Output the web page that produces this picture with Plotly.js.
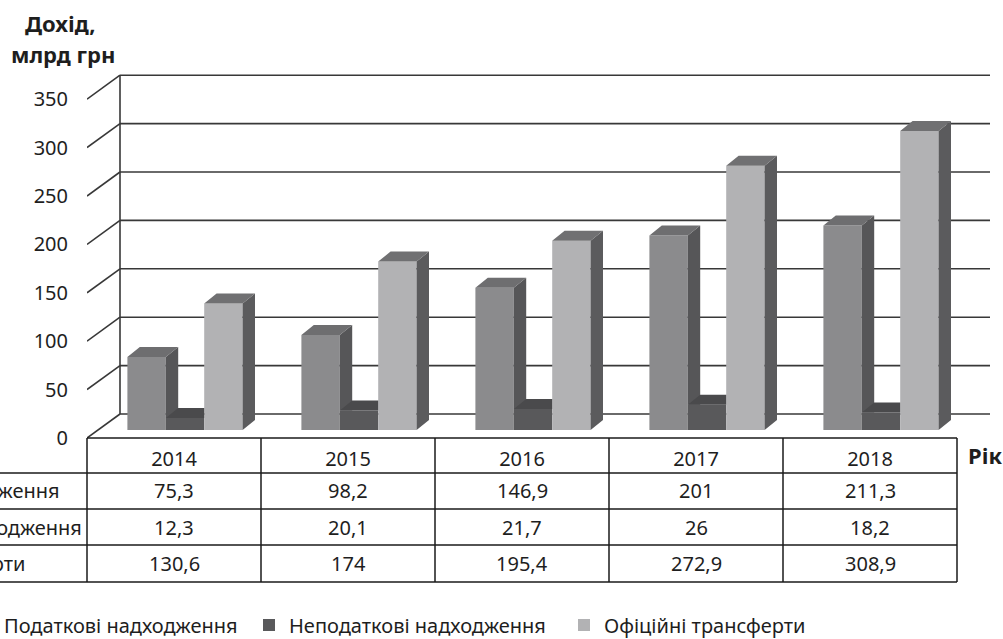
<!DOCTYPE html>
<html><head><meta charset="utf-8">
<script src="https://cdn.plot.ly/plotly-3.0.1.min.js"></script>
<style>html,body{margin:0;padding:0;background:#fff}#chart{width:1003px;height:639px}</style>
</head><body><div id="chart"></div>
<script>
// ---------- data ----------
const years = ['2014', '2015', '2016', '2017', '2018'];
const seriesNames = ['Податкові надходження', 'Неподаткові надходження', 'Офіційні трансферти'];
const taxRevenue = [75.3, 98.2, 146.9, 201, 211.3];
const nonTaxRevenue = [12.3, 20.1, 21.7, 26, 18.2];
const officialTransfers = [130.6, 174, 195.4, 272.9, 308.9];
const yTicks = [0, 50, 100, 150, 200, 250, 300, 350];
const yTitleLines = ['Дохід,', 'млрд грн'];
const xTitle = 'Рік';

// ---------- geometry / style ----------
const L = 87, R = 990, T = 64, B = 438;       // plot area (px)
const K = 0.968;                               // px per value unit
const BAR0 = 430, FRONT0 = 438, BACK0 = 414;   // y px of 0 on bar plane / front / back wall
const WALLX = 120;                             // back wall left x
const CAT = 174, BAR_SHIFT = 11, BW = 38.4;
const DX = 12.4, DY = 10 / K;
const FRONT_OFF = (BAR0 - FRONT0) / K, BACK_OFF = (BAR0 - BACK0) / K;
const FONT = 'Noto Sans';
const TXT = '#1e1e1e';
const colors = [
  {front: '#8b8b8d', top: '#6e6e70', side: '#565658'},
  {front: '#59595b', top: '#4a4a4c', side: '#404042'},
  {front: '#b2b2b4', top: '#707072', side: '#5b5b5d'}
];
const legendWidths = [240, 270, 260];
const xp = px => (px - L) / (R - L);
const yp = py => (B - py) / (B - T);

const series = [taxRevenue, nonTaxRevenue, officialTransfers];
const catCenterFront = i => L + CAT * (i + 0.5);
const catCenterBar = i => L + BAR_SHIFT + CAT * (i + 0.5);
const fmt = v => String(v).replace('.', ',');

// ---------- traces ----------
const traces = [];
series.forEach((vals, j) => {
  traces.push({
    type: 'bar', name: seriesNames[j],
    x: vals.map((_, i) => catCenterBar(i) + (j - 1) * BW),
    y: vals, width: vals.map(() => BW), base: vals.map(() => 0),
    marker: {color: colors[j].front, line: {width: 0}},
    legendwidth: legendWidths[j], hoverinfo: 'skip'
  });
});

function sidePoly(x1, v, vn) {
  const lo = vn == null ? 0 : vn;
  if (lo >= v) return null;
  if (lo <= 0) return [[x1, 0], [x1, v], [x1 + DX, v + DY], [x1 + DX, DY]];
  if (lo >= DY) return [[x1, lo], [x1, v], [x1 + DX, v + DY], [x1 + DX, lo]];
  return [[x1, lo], [x1, v], [x1 + DX, v + DY], [x1 + DX, DY], [x1 + DX * lo / DY, lo]];
}
function topPoly(x0, x1, v, vn) {
  const c = vn == null ? v : Math.min(Math.max(vn, v), v + DY);
  if (c >= v + DY) return [[x0, v], [x1, v], [x1, v + DY], [x0 + DX, v + DY]];
  if (c <= v) return [[x0, v], [x1, v], [x1 + DX, v + DY], [x0 + DX, v + DY]];
  return [[x0, v], [x1, v], [x1, c], [x1 + DX * (c - v) / DY, c], [x1 + DX, v + DY], [x0 + DX, v + DY]];
}
function polyTrace(polys, color) {
  const x = [], y = [];
  polys.forEach(p => { if (!p) return; p.forEach(q => { x.push(q[0]); y.push(q[1]); }); x.push(null); y.push(null); });
  return {type: 'scatter', mode: 'lines', x, y, fill: 'toself', fillcolor: color,
          line: {color: color, width: 0}, showlegend: false, hoverinfo: 'skip'};
}
series.forEach((vals, j) => {
  const sides = [], tops = [];
  vals.forEach((v, i) => {
    const xc = catCenterBar(i) + (j - 1) * BW;
    const x0 = xc - BW / 2, x1 = xc + BW / 2;
    const vn = j < series.length - 1 ? series[j + 1][i] : null;
    sides.push(sidePoly(x1, v, vn));
    tops.push(topPoly(x0, x1, v, vn));
  });
  traces.push(polyTrace(sides, colors[j].side));
  traces.push(polyTrace(tops, colors[j].top));
});

// ---------- walls (shapes below) ----------
const shapes = [];
const wallLine = {color: '#383838', width: 1.6};
yTicks.forEach(v => {
  shapes.push({type: 'line', layer: 'below', xref: 'x', yref: 'y', x0: WALLX, x1: R, y0: v + BACK_OFF, y1: v + BACK_OFF, line: wallLine});
  shapes.push({type: 'line', layer: 'below', xref: 'x', yref: 'y', x0: L, x1: WALLX, y0: v + FRONT_OFF, y1: v + BACK_OFF, line: wallLine});
});
shapes.push({type: 'line', layer: 'below', xref: 'x', yref: 'y', x0: WALLX, x1: WALLX,
  y0: yTicks[0] + BACK_OFF, y1: yTicks[yTicks.length - 1] + BACK_OFF, line: wallLine});

// ---------- data table ----------
const tableLine = {color: '#1a1a1a', width: 1.5};
const rowLines = [473, 509, 545, 582];
const tableRight = L + CAT * years.length;
shapes.push({type: 'line', xref: 'paper', yref: 'paper', x0: xp(L), x1: xp(tableRight), y0: yp(FRONT0), y1: yp(FRONT0), line: tableLine});
rowLines.forEach(py => shapes.push({type: 'line', xref: 'paper', yref: 'paper', x0: xp(0), x1: xp(tableRight), y0: yp(py), y1: yp(py), line: tableLine}));
for (let i = 0; i <= years.length; i++) {
  const px = L + CAT * i;
  shapes.push({type: 'line', xref: 'paper', yref: 'paper', x0: xp(px), x1: xp(px), y0: yp(FRONT0), y1: yp(582), line: tableLine});
}

const annotations = [];
const rowCenters = [491, 527, 563];
const rowLabelEnds = [62, 84, 28];
series.forEach((vals, j) => {
  vals.forEach((v, i) => annotations.push({
    xref: 'x', yref: 'paper', x: catCenterFront(i), y: yp(rowCenters[j]), text: fmt(v),
    showarrow: false, xanchor: 'center', yanchor: 'middle', font: {family: FONT, size: 20, color: TXT}
  }));
  annotations.push({
    xref: 'paper', yref: 'paper', x: xp(rowLabelEnds[j]), y: yp(rowCenters[j]), text: seriesNames[j],
    showarrow: false, xanchor: 'right', yanchor: 'middle', font: {family: FONT, size: 20, color: TXT}
  });
});
annotations.push({xref: 'paper', yref: 'paper', x: xp(60), y: yp(23), text: '<b>' + yTitleLines[0] + '</b>',
  showarrow: false, xanchor: 'center', yanchor: 'middle', font: {family: FONT, size: 22, color: TXT}});
annotations.push({xref: 'paper', yref: 'paper', x: xp(63), y: yp(54), text: '<b>' + yTitleLines[1] + '</b>',
  showarrow: false, xanchor: 'center', yanchor: 'middle', font: {family: FONT, size: 22, color: TXT}});
annotations.push({xref: 'paper', yref: 'paper', x: xp(966), y: yp(455), text: '<b>' + xTitle + '</b>',
  showarrow: false, xanchor: 'left', yanchor: 'middle', font: {family: FONT, size: 22, color: TXT}});

const layout = {
  width: 1003, height: 639,
  margin: {l: L, r: 1003 - R, t: T, b: 639 - B, pad: 0, autoexpand: false},
  paper_bgcolor: '#ffffff', plot_bgcolor: 'rgba(0,0,0,0)',
  font: {family: FONT, size: 20, color: TXT},
  barmode: 'overlay',
  showlegend: true,
  legend: {orientation: 'h', x: xp(-36), xanchor: 'left', y: yp(625), yanchor: 'middle',
           font: {family: FONT, size: 20, color: TXT}, bgcolor: 'rgba(0,0,0,0)', traceorder: 'normal'},
  xaxis: {range: [L, R], tickvals: years.map((_, i) => catCenterFront(i)), ticktext: years,
          ticks: '', showgrid: false, zeroline: false, showline: false, ticklabelstandoff: 7,
          tickfont: {family: FONT, size: 20, color: TXT}, fixedrange: true, automargin: false},
  yaxis: {range: [(BAR0 - B) / K, (BAR0 - T) / K], tickvals: yTicks.map(v => v + FRONT_OFF),
          ticktext: yTicks.map(String), ticks: '', showgrid: false, zeroline: false, showline: false,
          ticklabelstandoff: 18, tickfont: {family: FONT, size: 20, color: TXT}, fixedrange: true, automargin: false},
  shapes, annotations
};

Plotly.newPlot('chart', traces, layout, {displayModeBar: false, staticPlot: true});
</script>
</body></html>
